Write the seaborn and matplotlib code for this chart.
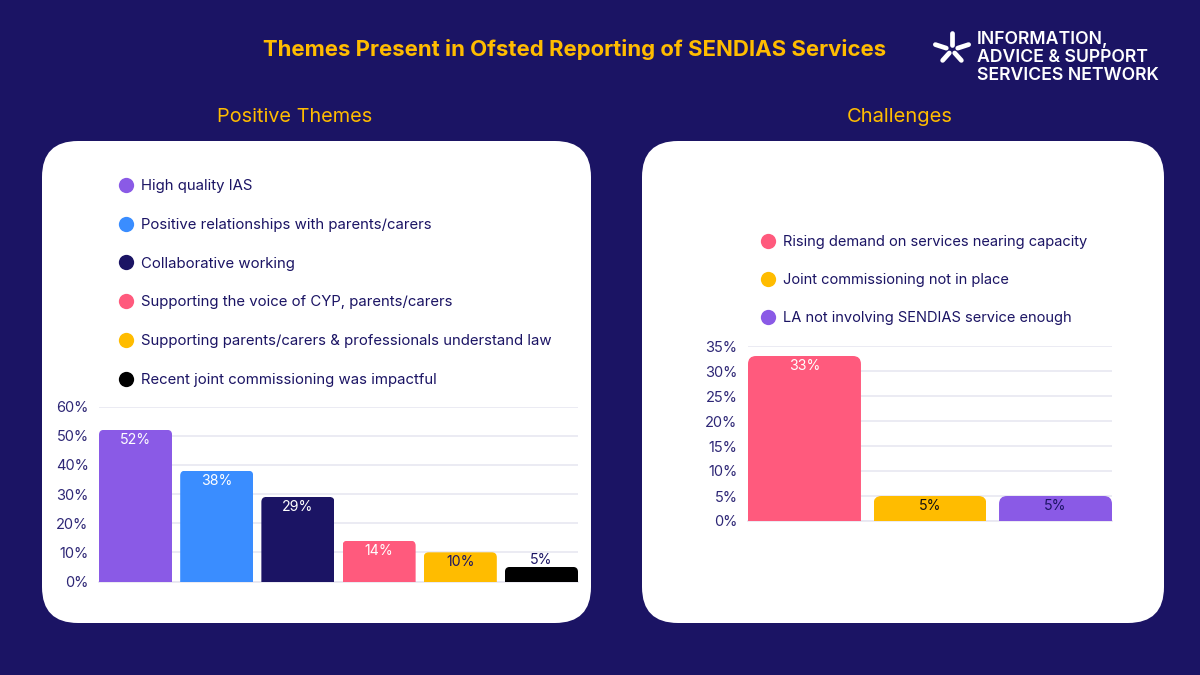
import numpy as np
import pandas as pd
import seaborn as sns
import matplotlib
matplotlib.use("Agg")
import matplotlib.pyplot as plt
from matplotlib.lines import Line2D
from matplotlib.patches import FancyBboxPatch
from matplotlib.transforms import IdentityTransform

pos_labels = ["High quality IAS", "Positive relationships with parents/carers", "Collaborative working",
              "Supporting the voice of CYP, parents/carers",
              "Supporting parents/carers & professionals understand law",
              "Recent joint commissioning was impactful"]
pos_values = [52, 38, 29, 14, 10, 5]
pos_colors = ["#8A5AE6", "#3A8DFF", "#1B1464", "#FF5A7D", "#FFBC00", "#000000"]
pos_text = ["white", "white", "white", "white", "#1B1464", "#1B1464"]
pos_ticks = [0, 10, 20, 30, 40, 50, 60]

ch_labels = ["Rising demand on services nearing capacity", "Joint commissioning not in place",
             "LA not involving SENDIAS service enough"]
ch_values = [33, 5, 5]
ch_colors = ["#FF5A7D", "#FFBC00", "#8A5AE6"]
ch_text = ["white", "#111111", "#1B1464"]
ch_ticks = [0, 5, 10, 15, 20, 25, 30, 35]

title = "Themes Present in Ofsted Reporting of SENDIAS Services"
logo_lines = ["INFORMATION,", "ADVICE & SUPPORT", "SERVICES NETWORK"]

BG, NAVY, YEL, GRID = "#1B1464", "#1B1464", "#FFBC00", "#E8E7F1"
W, H = 1200, 675
sns.set_theme(style="white")
plt.rcParams["font.family"] = ["Inter", "DejaVu Sans"]
fig = plt.figure(figsize=(12, 6.75), dpi=100, facecolor=BG)

def fx(x): return x / W
def fy(y): return 1 - y / H

bgax = fig.add_axes([0, 0, 1, 1], zorder=0)
bgax.set_xlim(0, W); bgax.set_ylim(H, 0); bgax.axis("off")
for x0, x1 in [(42, 591), (642, 1164)]:
    r = 36
    bgax.add_patch(FancyBboxPatch((x0 + r, 141 + r), x1 - x0 - 2 * r, 482 - 2 * r,
                                  boxstyle=f"round,pad={r},rounding_size={r}", fc="white", ec="none"))

fig.text(fx(574.5), fy(49.5), title, color=YEL, fontsize=15.95, fontweight="bold", ha="center", va="center")
fig.text(fx(295), fy(117), "Positive Themes", color=YEL, fontsize=14.3, ha="center", va="center")
fig.text(fx(900), fy(117), "Challenges", color=YEL, fontsize=14.5, ha="center", va="center")

# logo: five spokes as (angle, inner radius, outer radius)
c = np.array([952, 50])
for a, r0, r1 in [(90, 5, 17), (162, 6, 17.5), (18, 6, 17.5), (228, 4, 14), (312, 4, 14)]:
    d = np.array([np.cos(np.radians(a)), -np.sin(np.radians(a))])
    p0, p1 = c + d * r0, c + d * r1
    bgax.plot([p0[0], p1[0]], [p0[1], p1[1]], color="white", lw=3.4, solid_capstyle="round")
for yy, t in zip([39, 57, 75], logo_lines):
    fig.text(fx(977), fy(yy), t, color="white", fontsize=12.7, fontweight="semibold", ha="left", va="center")

def panel(rect, labels, values, colors, tcolors, ticks, ymax, radius, legend_xy, spacing, legend_size):
    x0, x1, ytop, ybot = rect
    ax = fig.add_axes([fx(x0), fy(ybot), (x1 - x0) / W, (ybot - ytop) / H], zorder=2)
    ax.patch.set_alpha(0)
    df = pd.DataFrame({"label": labels, "value": values})
    sns.barplot(data=df, x="label", y="value", hue="label", palette=colors, width=0.9,
                saturation=1, legend=False, ax=ax, zorder=3)
    ax.set_xlim(-0.45, len(labels) - 0.55)
    ax.set_ylim(0, ymax)
    ax.set_xlabel(""); ax.set_ylabel(""); ax.set_xticks([])
    ax.set_yticks(ticks)
    ax.set_yticklabels([f"{t}%" for t in ticks], color="#2E2776", fontsize=10.5)
    ax.tick_params(axis="y", length=0, pad=7.5)
    ax.grid(axis="y", color=GRID, lw=1.2, zorder=0)
    ax.set_axisbelow(True)
    sns.despine(ax=ax, left=True, top=True, right=True, bottom=False)
    ax.spines["bottom"].set_color(GRID)
    fig.canvas.draw()
    for bar, v, tc in zip(ax.patches, values, tcolors):
        (px0, py0), (px1, py1) = ax.transData.transform(
            [(bar.get_x(), 0), (bar.get_x() + bar.get_width(), v)])
        clip = FancyBboxPatch((px0 + radius, py0 - 30), px1 - px0 - 2 * radius, py1 - py0 + 30 - radius,
                              boxstyle=f"round,pad={radius},rounding_size={radius}",
                              transform=IdentityTransform())
        bar.set_clip_path(clip)
        bar.set_edgecolor("none")
        off = -10 if v > 5 or len(labels) == 3 else 7
        ax.annotate(f"{v}%", (bar.get_x() + bar.get_width() / 2, v), xytext=(0, off * 0.72),
                    textcoords="offset points", ha="center", va="center", color=tc,
                    fontsize=10.2, zorder=5)
    handles = [Line2D([], [], ls="", marker="o", ms=11, mfc=c, mec="none") for c in colors]
    ax.legend(handles, labels, loc="upper left", bbox_to_anchor=(fx(legend_xy[0]), fy(legend_xy[1])),
              bbox_transform=fig.transFigure, frameon=False, fontsize=legend_size, labelcolor=NAVY,
              labelspacing=spacing, handletextpad=0.3, handlelength=1.4, borderpad=0, borderaxespad=0)
    return ax

panel((99, 578, 406.5, 581.5), pos_labels, pos_values, pos_colors, pos_text, pos_ticks, 60, 5, (116, 179), 1.66, 10.75)
panel((748, 1112, 346, 521), ch_labels, ch_values, ch_colors, ch_text, ch_ticks, 35, 8, (758, 235), 1.63, 10.55)

fig.savefig("out.png", dpi=100, facecolor=BG)
